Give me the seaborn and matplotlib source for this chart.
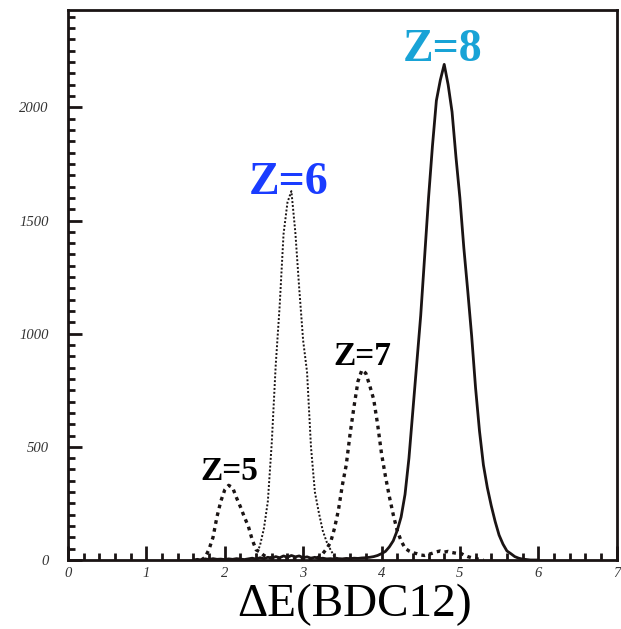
import numpy as np
import pandas as pd
import matplotlib
matplotlib.use("Agg")
import matplotlib.pyplot as plt
import seaborn as sns

# bin width of the dE spectra (BDC12)
bin_width = 0.05

# Z=8 (solid), bins starting at 1.60
z8_start = 1.60
z8_counts = [0, 3, 0, 5, 2, 6, 3, 4, 2, 5, 3, 6, 4, 2, 5, 8, 4, 10, 6, 12,
             8, 15, 10, 18, 12, 20, 14, 18, 10, 14, 8, 12, 6, 8, 5, 6, 4, 6, 5, 7,
             6, 8, 7, 9, 10, 12, 15, 20, 28, 38, 58, 85, 130, 190, 290, 450, 660, 870, 1080, 1340,
             1600, 1830, 2030, 2120, 2190, 2100, 1980, 1780, 1600, 1380, 1190, 990, 760, 570, 420, 320,
             240, 170, 110, 70, 40, 28, 15, 8, 4, 2, 0, 0, 0]

# Z=6 (fine dotted), bins starting at 2.40
z6_start = 2.40
z6_counts = [20, 65, 140, 260, 520, 860, 1120, 1440, 1580, 1630, 1450, 1200, 970, 830,
             500, 300, 210, 130, 80, 45, 15, 5]

# Z=5 and Z=7 (thick dotted), bins starting at 1.70
z57_start = 1.70
z57_counts = [0, 12, 48, 100, 190, 260, 310, 330, 320, 275, 235, 190, 150, 90, 45, 35,
              20, 12, 8, 10, 6, 8, 5, 10, 6, 4, 8, 5, 6, 8, 12, 28, 50, 78, 140, 220,
              330, 420, 560, 680, 790, 840, 825, 770, 710, 600, 470, 370, 280, 200, 130, 85,
              52, 40, 32, 28, 22, 20, 25, 30, 36, 40, 35, 38, 33, 30, 32, 22, 15, 10, 6, 3, 0]

labels = ["Z=5", "Z=6", "Z=7", "Z=8"]
label_x = [2.06, 2.81, 3.76, 4.78]
label_y = [393, 1665, 900, 2252]
label_colors = ["black", "#1a3cff", "black", "#18a3d6"]
label_sizes = [24, 33, 24, 33]


def spectrum(start, counts):
    x = np.round(start + bin_width * np.arange(len(counts)), 2)
    return pd.DataFrame({"dE": x, "counts": counts})


sns.set_style("ticks")
plt.rcParams["font.family"] = ["Liberation Serif", "DejaVu Serif"]
plt.rcParams["axes.linewidth"] = 2.0

fig = plt.figure(figsize=(6.21, 6.29), dpi=100)
ax = fig.add_axes([0.1095, 0.1097, 0.8835, 0.8743])

sns.lineplot(data=spectrum(z57_start, z57_counts), x="dE", y="counts", ax=ax,
             color="#1a1414", linewidth=2.4, linestyle=(0, (1.1, 1.3)))
sns.lineplot(data=spectrum(z6_start, z6_counts), x="dE", y="counts", ax=ax,
             color="#1a1414", linewidth=1.4, linestyle=(0, (1, 1.0)))
sns.lineplot(data=spectrum(z8_start, z8_counts), x="dE", y="counts", ax=ax,
             color="#1a1414", linewidth=2.0)

for txt, x, y, c, s in zip(labels, label_x, label_y, label_colors, label_sizes):
    ax.text(x, y, txt, color=c, fontsize=s, fontweight="bold",
            ha="center", va="center")

ax.set_xlim(0, 7)
ax.set_ylim(0, 2430)
ax.set_xticks(range(0, 8))
ax.set_xticks(np.arange(0, 7.01, 0.2), minor=True)
ax.set_yticks(range(0, 2001, 500))
ax.set_yticks(range(0, 2431, 50), minor=True)
ax.tick_params(which="both", direction="in", color="#1a1414", width=2)
ax.tick_params(which="major", length=10)
ax.tick_params(which="minor", length=5)
ax.tick_params(axis="y", pad=14)
ax.tick_params(axis="x", pad=5)
for lab in ax.get_xticklabels() + ax.get_yticklabels():
    lab.set_fontstyle("italic")
    lab.set_fontsize(10.5)
    lab.set_color("#333333")
for sp in ax.spines.values():
    sp.set_color("#1a1414")

ax.set_xlabel("")
ax.set_ylabel("")
fig.text(355 / 621, 1 - 605 / 629, "\u0394E(BDC12)", fontsize=34,
         ha="center", va="center", color="black")

fig.savefig("out.png", dpi=100)
